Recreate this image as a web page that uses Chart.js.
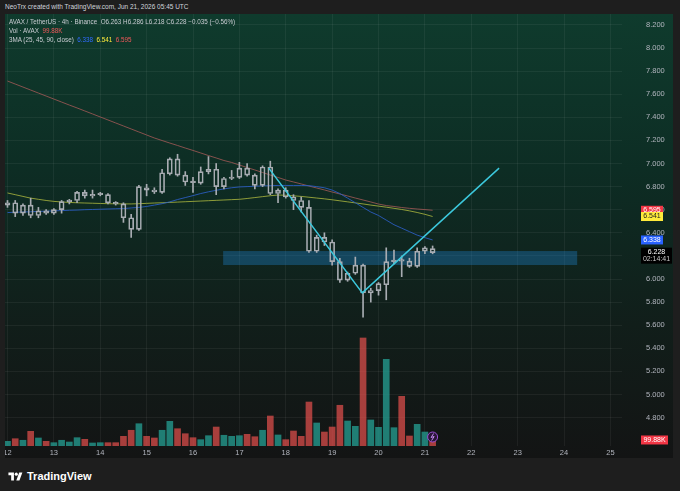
<!DOCTYPE html>
<html>
<head>
<meta charset="utf-8">
<script src="https://cdn.jsdelivr.net/npm/chart.js@4.4.0/dist/chart.umd.min.js"></script>
<style>
  html, body { margin: 0; padding: 0; background: #1e1e1e; }
  body { width: 680px; height: 491px; position: relative; overflow: hidden; font-family: "Liberation Sans", Arial, sans-serif; }
  .credit { position: absolute; left: 5px; top: 3px; font-size: 6.5px; color: #d1d4dc; }
  .panel { position: absolute; left: 5px; top: 14px; width: 668px; height: 444px;
           background: linear-gradient(#0f3b2d 0%, #0d2d24 35%, #111e1a 70%, #131414 100%); }
  .legend { position: absolute; left: 9px; top: 17px; font-size: 6.3px; color: #c9ccd2; line-height: 9px; white-space: pre; }
  .footer { position: absolute; left: 8px; top: 468px; height: 16px; display: flex; align-items: center; gap: 4px;
            color: #fff; font-size: 11px; font-weight: bold; }
</style>
</head>
<body>
<div class="credit">NeoTrx created with TradingView.com, Jun 21, 2026 05:45 UTC</div>
<div class="panel"><canvas id="chart"></canvas></div>
<div class="legend" id="legend"></div>
<div class="footer">
  <svg width="15" height="11" viewBox="0 0 36 28"><path d="M14 24H7V11H0V4h14v20zM28 24h-8l7.5-20h8L28 24z" fill="#fff"/><circle cx="20" cy="8" r="4" fill="#fff"/></svg>
  <span>TradingView</span>
</div>
<script>
// x axis: one step = one 4h candle, day labels every 6 candles
const days = ['12', '13', '14', '15', '16', '17', '18', '19', '20', '21', '22', '23', '24', '25'];
const dayStart = [0, 6, 12, 18, 24, 30, 36, 42, 48, 54, 60, 66, 72, 78];
const priceTicks = [4.8, 5.0, 5.2, 5.4, 5.6, 5.8, 6.0, 6.2, 6.4, 6.6, 6.8, 7.0, 7.2, 7.4, 7.6, 7.8, 8.0, 8.2];

const open = [6.64, 6.66, 6.57, 6.64, 6.55, 6.59, 6.57, 6.60, 6.67, 6.68, 6.75, 6.72, 6.73, 6.73, 6.66, 6.65, 6.53, 6.43, 6.79, 6.77,
  6.75, 6.91, 7.04, 6.90, 6.84, 6.83, 6.93, 6.95, 6.80, 6.87, 6.88, 6.96, 6.90, 6.81, 6.97, 6.74, 6.77, 6.71, 6.68, 6.62,
  6.24, 6.36, 6.32, 6.15, 5.99, 6.05, 6.12, 5.88, 5.90, 5.95, 6.15, 6.16, 6.155, 6.11, 6.24, 6.263];
const high = [6.68, 6.68, 6.65, 6.70, 6.62, 6.60, 6.61, 6.68, 6.69, 6.76, 6.77, 6.77, 6.75, 6.74, 6.67, 6.66, 6.56, 6.81, 6.82, 6.79,
  6.95, 7.05, 7.08, 6.93, 6.88, 6.97, 7.06, 7.00, 6.88, 6.94, 7.01, 7.00, 6.91, 6.98, 7.02, 6.78, 6.79, 6.73, 6.71, 6.68,
  6.38, 6.40, 6.34, 6.18, 6.06, 6.19, 6.13, 5.92, 5.97, 6.27, 6.25, 6.20, 6.18, 6.27, 6.28, 6.286];
const low = [6.62, 6.54, 6.55, 6.53, 6.53, 6.56, 6.56, 6.57, 6.65, 6.66, 6.70, 6.70, 6.72, 6.65, 6.64, 6.49, 6.36, 6.42, 6.72, 6.74,
  6.74, 6.90, 6.89, 6.81, 6.75, 6.82, 6.91, 6.73, 6.78, 6.86, 6.87, 6.89, 6.78, 6.80, 6.73, 6.66, 6.70, 6.60, 6.58, 6.23,
  6.23, 6.29, 6.12, 5.97, 5.98, 6.04, 5.67, 5.80, 5.86, 5.82, 6.13, 6.02, 6.10, 6.10, 6.22, 6.218];
const close = [6.66, 6.57, 6.64, 6.55, 6.59, 6.57, 6.60, 6.67, 6.68, 6.75, 6.72, 6.73, 6.735, 6.66, 6.65, 6.53, 6.43, 6.80, 6.77, 6.755,
  6.92, 7.04, 6.90, 6.84, 6.835, 6.93, 6.95, 6.80, 6.87, 6.88, 6.96, 6.90, 6.81, 6.97, 6.74, 6.77, 6.71, 6.68, 6.62, 6.24,
  6.36, 6.32, 6.15, 5.99, 6.05, 6.12, 5.88, 5.90, 5.96, 6.15, 6.16, 6.155, 6.11, 6.24, 6.27, 6.228];
// volume in thousands of AVAX
const volume = [78, 121, 95, 244, 133, 78, 55, 95, 66, 138, 111, 50, 55, 55, 55, 161, 261, 370, 161, 133,
  261, 410, 287, 204, 138, 105, 171, 315, 178, 161, 171, 194, 154, 261, 498, 183, 105, 249, 161, 730,
  382, 232, 315, 676, 415, 327, 1793, 432, 310, 1439, 304, 825, 166, 360, 232, 99.88];

const ma25 = [6.575, 6.578, 6.580, 6.582, 6.585, 6.587, 6.590, 6.592, 6.595, 6.597, 6.600, 6.602, 6.604, 6.606, 6.608, 6.610, 6.615, 6.620, 6.628, 6.640,
  6.652, 6.668, 6.688, 6.705, 6.722, 6.740, 6.755, 6.768, 6.780, 6.790, 6.797, 6.800, 6.803, 6.806, 6.808, 6.810, 6.810, 6.810, 6.810, 6.808,
  6.800, 6.790, 6.770, 6.740, 6.700, 6.660, 6.620, 6.580, 6.550, 6.510, 6.470, 6.440, 6.410, 6.380, 6.358, 6.338];
const ma45 = [6.745, 6.730, 6.715, 6.700, 6.690, 6.680, 6.672, 6.667, 6.663, 6.660, 6.658, 6.656, 6.654, 6.652, 6.651, 6.650, 6.650, 6.652, 6.655, 6.658,
  6.660, 6.663, 6.666, 6.669, 6.672, 6.675, 6.678, 6.681, 6.684, 6.687, 6.690, 6.697, 6.705, 6.713, 6.721, 6.727, 6.725, 6.720, 6.715, 6.708,
  6.701, 6.694, 6.686, 6.677, 6.668, 6.659, 6.650, 6.640, 6.631, 6.622, 6.612, 6.602, 6.590, 6.576, 6.560, 6.541];
const ma90 = [7.714, 7.688, 7.662, 7.636, 7.610, 7.584, 7.558, 7.532, 7.506, 7.481, 7.455, 7.429, 7.403, 7.377, 7.351, 7.325, 7.299, 7.273, 7.247, 7.221,
  7.199, 7.177, 7.156, 7.134, 7.113, 7.091, 7.069, 7.048, 7.026, 7.009, 6.987, 6.965, 6.944, 6.922, 6.900, 6.879, 6.857, 6.840, 6.823, 6.805,
  6.788, 6.771, 6.753, 6.736, 6.719, 6.701, 6.684, 6.667, 6.649, 6.636, 6.628, 6.619, 6.612, 6.606, 6.601, 6.595];

// drawings: support zone and the V trend line
const zoneX = [27.9, 73.7];
const zonePrice = [6.121, 6.242];
const trendX = [33.8, 45.9, 63.6];
const trendY = [6.96, 5.88, 6.96];

const candleColor = '#a8acb2';
const upVol = 'rgba(38,166,154,0.72)';
const downVol = 'rgba(239,83,80,0.68)';
const last = close.length - 1;

const idx = close.map((c, i) => i);
const bodies = idx.map(i => ({ x: i, y: [open[i], close[i]] }));
const upperWick = idx.map(i => ({ x: i, y: [Math.max(open[i], close[i]), high[i]] }));
const lowerWick = idx.map(i => ({ x: i, y: [low[i], Math.min(open[i], close[i])] }));
const vols = idx.map(i => ({ x: i, y: volume[i] }));
const volColors = idx.map(i => close[i] >= open[i] ? upVol : downVol);
const line = arr => arr.map((v, i) => ({ x: i, y: v }));
const trend = trendX.map((v, i) => ({ x: v, y: trendY[i] }));

const fmtVol = v => v >= 1000 ? (v / 1000).toFixed(2) + 'M' : v.toFixed(2) + 'K';
const chg = close[last] - open[last];

document.getElementById('legend').innerHTML =
  'AVAX / TetherUS · 4h · Binance  O' + open[last].toFixed(3) + ' H' + high[last].toFixed(3) +
  ' L' + low[last].toFixed(3) + ' C' + close[last].toFixed(3) + ' −' + Math.abs(chg).toFixed(3) + ' (−0.56%)\n' +
  'Vol · AVAX  <span style="color:#f0585a">' + fmtVol(volume[last]) + '</span>\n' +
  '3MA (25, 45, 90, close)  <span style="color:#2f6bff">' + ma25[last].toFixed(3) + '</span>  ' +
  '<span style="color:#ffeb3b">' + ma45[last].toFixed(3) + '</span>  ' +
  '<span style="color:#f0585a">' + ma90[last].toFixed(3) + '</span>';

const zonePlugin = {
  id: 'zone',
  beforeDatasetsDraw(chart) {
    const { ctx, scales: { x, y } } = chart;
    const x0 = x.getPixelForValue(zoneX[0]), x1 = x.getPixelForValue(zoneX[1]);
    const y0 = y.getPixelForValue(zonePrice[1]), y1 = y.getPixelForValue(zonePrice[0]);
    ctx.save();
    ctx.fillStyle = 'rgba(33,150,243,0.3)';
    ctx.fillRect(x0, y0, x1 - x0, y1 - y0);
    ctx.restore();
  }
};

function tag(ctx, left, cy, w, h, bg, lines, colors) {
  ctx.fillStyle = bg;
  ctx.fillRect(left, cy - h / 2, w, h);
  ctx.textAlign = 'center';
  ctx.textBaseline = 'middle';
  lines.forEach((t, k) => {
    ctx.fillStyle = colors[k];
    ctx.fillText(t, left + w / 2, cy - (lines.length - 1) * 3.8 + k * 7.6);
  });
}

const tagsPlugin = {
  id: 'tags',
  afterDraw(chart) {
    const { ctx, scales: { x, y, yv } } = chart;
    const left = chart.chartArea.right + 19;
    ctx.save();
    ctx.font = '7px "Liberation Sans", Arial, sans-serif';
    tag(ctx, left, y.getPixelForValue(ma90[last]), 22, 9, '#f23645', [ma90[last].toFixed(3)], ['#fff']);
    tag(ctx, left, y.getPixelForValue(ma45[last]), 22, 9, '#ffeb3b', [ma45[last].toFixed(3)], ['#222']);
    tag(ctx, left, y.getPixelForValue(ma25[last]), 22, 9, '#2962ff', [ma25[last].toFixed(3)], ['#fff']);
    tag(ctx, left, y.getPixelForValue(close[last]) + 3, 31, 16, '#000', [close[last].toFixed(3), '02:14:41'], ['#fff', '#c8c8c8']);
    tag(ctx, left, yv.getPixelForValue(volume[last]), 27, 9, '#f23645', [fmtVol(volume[last])], ['#fff']);
    // event marker under the last bar
    const mx = x.getPixelForValue(last), my = chart.chartArea.bottom - 9;
    ctx.beginPath();
    ctx.arc(mx, my, 5, 0, Math.PI * 2);
    ctx.fillStyle = '#2a1638';
    ctx.fill();
    ctx.strokeStyle = '#9c4fd6';
    ctx.lineWidth = 1;
    ctx.stroke();
    ctx.beginPath();
    ctx.moveTo(mx + 1, my - 3.5); ctx.lineTo(mx - 1.5, my + 0.5); ctx.lineTo(mx + 1.5, my - 0.5); ctx.lineTo(mx - 1, my + 3.5);
    ctx.strokeStyle = '#c48cf0';
    ctx.stroke();
    ctx.restore();
  }
};

const barBase = { grouped: false, borderSkipped: false, xAxisID: 'x' };
const axisFont = { size: 7.5, family: '"Liberation Sans", Arial, sans-serif' };

new Chart(document.getElementById('chart'), {
  type: 'bar',
  data: {
    datasets: [
      { type: 'line', data: trend, borderColor: '#3cc8dc', borderWidth: 1.5, pointRadius: 0, yAxisID: 'y', order: 0 },
      { ...barBase, data: bodies, barThickness: 5, minBarLength: 1.5, borderWidth: 1,
        borderColor: candleColor, backgroundColor: 'rgba(0,0,0,0)', yAxisID: 'y', order: 1 },
      { ...barBase, data: upperWick, barThickness: 1, backgroundColor: candleColor, yAxisID: 'y', order: 2 },
      { ...barBase, data: lowerWick, barThickness: 1, backgroundColor: candleColor, yAxisID: 'y', order: 2 },
      { type: 'line', data: line(ma25), borderColor: 'rgba(45,95,200,0.85)', borderWidth: 1, pointRadius: 0, yAxisID: 'y', order: 3 },
      { type: 'line', data: line(ma45), borderColor: 'rgba(185,195,65,0.75)', borderWidth: 1, pointRadius: 0, yAxisID: 'y', order: 3 },
      { type: 'line', data: line(ma90), borderColor: 'rgba(165,90,88,0.8)', borderWidth: 1, pointRadius: 0, yAxisID: 'y', order: 3 },
      { ...barBase, data: vols, barThickness: 6, backgroundColor: volColors, yAxisID: 'yv', order: 4 }
    ]
  },
  options: {
    responsive: true,
    maintainAspectRatio: false,
    animation: false,
    layout: { padding: 0, autoPadding: false },
    plugins: { legend: { display: false }, tooltip: { enabled: false } },
    scales: {
      x: {
        type: 'linear', offset: false, min: -0.323, max: 79.5,
        grid: { offset: false, color: 'rgba(255,255,255,0.055)', drawTicks: false },
        border: { display: false },
        afterBuildTicks: s => { s.ticks = dayStart.map(v => ({ value: v })); },
        afterFit: s => { s.height = 12; s.paddingLeft = 0; s.paddingRight = 0; },
        ticks: { autoSkip: false, maxRotation: 0, padding: 2, color: '#b2b5be', font: axisFont,
                 callback: (v, i) => days[i] }
      },
      y: {
        type: 'linear', position: 'right', min: 4.5541, max: 8.2944, beginAtZero: false,
        grid: { color: 'rgba(255,255,255,0.055)', drawTicks: false },
        border: { display: false },
        afterBuildTicks: s => { s.ticks = priceTicks.map(v => ({ value: v })); },
        afterFit: s => { s.width = 51; s.paddingTop = 0; s.paddingBottom = 0; },
        ticks: { padding: 24, color: '#b2b5be', font: axisFont, callback: v => v.toFixed(3) }
      },
      yv: { type: 'linear', display: false, min: 0, max: 7171 }
    }
  },
  plugins: [zonePlugin, tagsPlugin]
});
</script>
</body>
</html>
